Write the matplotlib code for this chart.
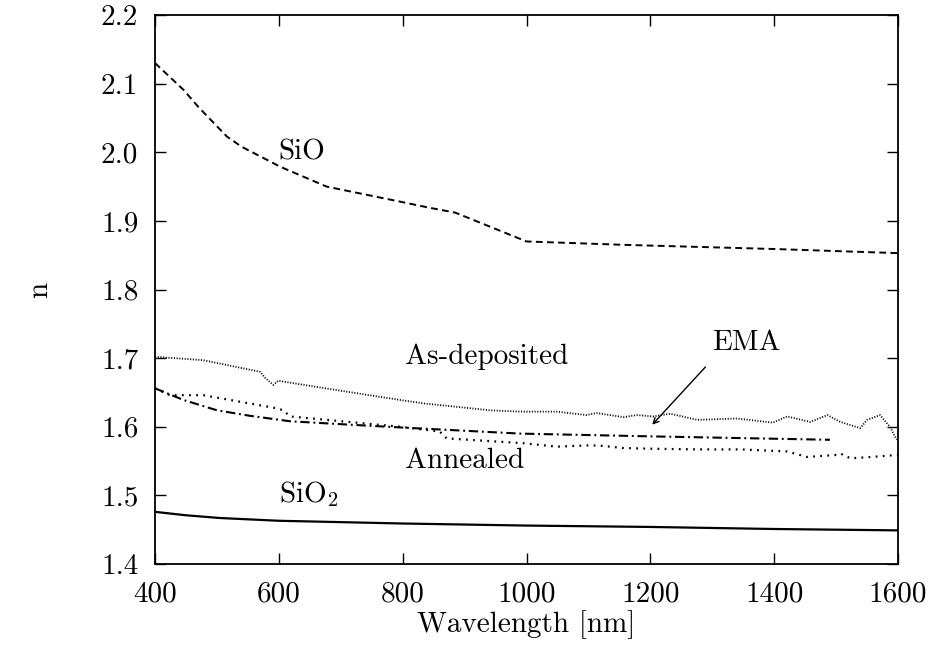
import matplotlib
matplotlib.use("Agg")
import matplotlib.pyplot as plt

plt.rcParams['font.family'] = 'cmr10'
plt.rcParams['mathtext.fontset'] = 'cm'
plt.rcParams['axes.formatter.use_mathtext'] = True

# refractive index curves
lam_sio = [400, 446, 470, 516, 540, 570, 602, 677, 796, 844, 885, 1000, 1160, 1400, 1600]
n_sio = [2.130, 2.091, 2.066, 2.023, 2.008, 1.994, 1.979, 1.950, 1.928, 1.919, 1.912,
         1.870, 1.865, 1.859, 1.853]

lam_sio2 = [400, 450, 505, 600, 800, 1000, 1200, 1400, 1600]
n_sio2 = [1.476, 1.471, 1.467, 1.463, 1.459, 1.456, 1.454, 1.451, 1.449]

lam_asdep = [400, 478, 570, 578, 591, 599, 613, 661, 796, 834, 941, 990, 1049, 1097,
             1113, 1157, 1178, 1205, 1232, 1276, 1340, 1398, 1421, 1458, 1486, 1507,
             1539, 1550, 1571, 1587, 1595, 1600]
n_asdep = [1.702, 1.697, 1.680, 1.671, 1.661, 1.667, 1.665, 1.658, 1.639, 1.634, 1.624,
           1.622, 1.622, 1.617, 1.620, 1.614, 1.617, 1.615, 1.619, 1.610, 1.612, 1.606,
           1.615, 1.607, 1.617, 1.607, 1.598, 1.610, 1.617, 1.600, 1.586, 1.580]

lam_ann = [400, 424, 478, 596, 607, 618, 796, 860, 871, 995, 1049, 1103, 1124, 1156,
           1200, 1276, 1345, 1421, 1453, 1502, 1507, 1523, 1557, 1600]
n_ann = [1.656, 1.646, 1.646, 1.627, 1.624, 1.615, 1.600, 1.593, 1.583, 1.576, 1.571,
         1.573, 1.572, 1.569, 1.568, 1.567, 1.567, 1.564, 1.556, 1.559, 1.561, 1.554,
         1.556, 1.559]

lam_ema = [400, 446, 500, 553, 618, 715, 796, 990, 1200, 1490]
n_ema = [1.656, 1.639, 1.624, 1.616, 1.608, 1.603, 1.599, 1.590, 1.586, 1.581]

xticks = [400, 600, 800, 1000, 1200, 1400, 1600]
yticks = [1.4, 1.5, 1.6, 1.7, 1.8, 1.9, 2.0, 2.1, 2.2]

fig = plt.figure(figsize=(9.34, 6.56), dpi=100)
ax = fig.add_axes([155/934, 1 - 564/656, 743/934, 549/656])

ax.plot(lam_sio, n_sio, color='black', lw=1.4, linestyle=(0, (3.5, 2.2)))
ax.plot(lam_sio2, n_sio2, color='black', lw=1.6)
ax.plot(lam_asdep, n_asdep, color='black', lw=1.3, linestyle=(0, (0.6, 0.9)))
ax.plot(lam_ann, n_ann, color='black', lw=1.6, linestyle=(0, (0.8, 2.4)))
ax.plot(lam_ema, n_ema, color='black', lw=1.5, linestyle=(0, (4.5, 1.8, 0.9, 1.8)))

fs = 21
ax.text(600, 2.0, 'SiO', fontsize=fs, va='center', ha='left')
ax.text(600, 1.502, r'SiO$_2$', fontsize=fs, va='center', ha='left')
ax.text(804, 1.702, 'As-deposited', fontsize=fs, va='center', ha='left')
ax.text(804, 1.550, 'Annealed', fontsize=fs, va='center', ha='left')
ax.text(1300, 1.722, 'EMA', fontsize=fs, va='center', ha='left')
ax.annotate('', xy=(1200, 1.600), xytext=(1292, 1.690),
            arrowprops=dict(arrowstyle='->', color='black', lw=1.0))

ax.set_xlim(400, 1600)
ax.set_ylim(1.4, 2.2)
ax.set_xticks(xticks)
ax.set_xticklabels([str(v) for v in xticks])
ax.set_yticks(yticks)
ax.set_yticklabels(['%.1f' % v for v in yticks])
ax.tick_params(direction='in', length=8, width=1, top=True, right=True,
               labelsize=fs, pad=12)
for s in ax.spines.values():
    s.set_linewidth(1.3)

ax.set_xlabel('Wavelength [nm]', fontsize=fs, va='center')
ax.xaxis.set_label_coords(0.5, -0.111)
ax.set_ylabel('n', fontsize=fs)
ax.yaxis.set_label_coords(-0.137, 0.5)

fig.savefig('out.png', dpi=100)
